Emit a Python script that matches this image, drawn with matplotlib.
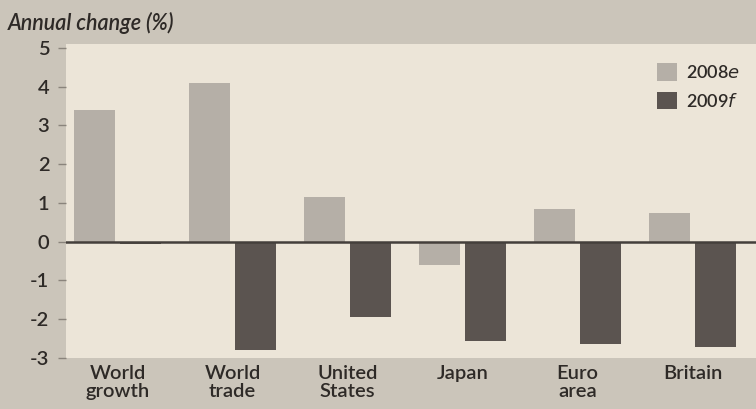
import numpy as np
import matplotlib.pyplot as plt

plt.rcParams['font.family'] = ['Lato', 'DejaVu Sans']

# Data
categories = ['World\ngrowth', 'World\ntrade', 'United\nStates', 'Japan', 'Euro\narea', 'Britain']
y2008 = [3.4, 4.1, 1.15, -0.6, 0.85, 0.75]
y2009 = [-0.05, -2.8, -1.95, -2.55, -2.65, -2.72]
yticks = [-3, -2, -1, 0, 1, 2, 3, 4, 5]

bg_out = '#cbc5ba'
bg_in = '#ece5d8'
light = '#b5afa7'
dark = '#5b5450'
txt = '#2e2a27'

fig = plt.figure(figsize=(7.56, 4.09), dpi=100)
fig.patch.set_facecolor(bg_out)
ax = fig.add_axes([0.0873, 0.1247, 0.9127, 0.7680])
ax.set_facecolor(bg_in)

x = np.arange(len(categories))
w = 0.355
ax.bar(x - 0.2, y2008, w, color=light, label='2008$\\it{e}$', zorder=2)
ax.bar(x + 0.2, y2009, w, color=dark, label='2009$\\it{f}$', zorder=2)
ax.axhline(0, color='#443f3b', lw=1.8, zorder=3)

ax.set_xlim(-0.45, 5.55)
ax.set_ylim(-3, 5.1)
ax.set_yticks(yticks)
ax.set_yticklabels([str(t) for t in yticks], fontsize=14.5, color=txt, fontweight='semibold')
ax.set_xticks(x)
ax.set_xticklabels(categories, fontsize=14.5, color=txt, linespacing=1.1, fontweight='semibold')
ax.tick_params(axis='y', length=6, width=1, color='#8a847c', pad=6)
ax.tick_params(axis='x', length=0, pad=5)
for s in ax.spines.values():
    s.set_visible(False)

leg = ax.legend(loc='upper right', bbox_to_anchor=(1.0, 0.99), frameon=False,
                prop={'size': 13, 'weight': 'semibold'}, handlelength=1.1,
                handleheight=1.1, handletextpad=0.5, labelspacing=0.6, labelcolor=txt)

fig.text(0.01, 0.944, 'Annual change (%)', fontsize=15.5, style='italic',
         fontweight='semibold', color=txt, va='center', ha='left')

fig.savefig('out.png', dpi=100, facecolor=fig.get_facecolor())
